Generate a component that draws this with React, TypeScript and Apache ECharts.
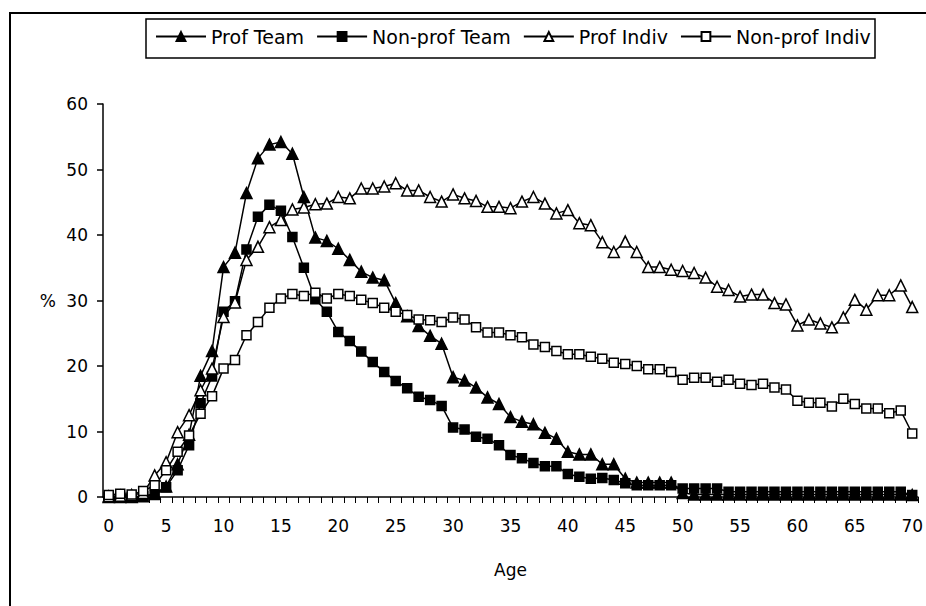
import React, { useEffect, useRef } from "react";
import * as echarts from "echarts";

const ages: string[] = [
  "0","1","2","3","4","5","6","7","8","9","10","11","12","13","14","15","16","17","18","19","20",
  "21","22","23","24","25","26","27","28","29","30","31","32","33","34","35","36","37","38","39","40",
  "41","42","43","44","45","46","47","48","49","50","51","52","53","54","55","56","57","58","59","60",
  "61","62","63","64","65","66","67","68","69","70",
];

const profTeam: number[] = [
  0, 0, 0, 0.1, 0.5, 1.6, 5.0, 9.5, 18.5, 22.3,
  35.1, 37.3, 46.4, 51.7, 53.8, 54.2, 52.4, 45.8, 39.6, 39.1,
  37.9, 36.2, 34.4, 33.5, 33.1, 29.6, 27.6, 26.1, 24.6, 23.4,
  18.3, 17.8, 16.7, 15.2, 14.2, 12.2, 11.5, 11.1, 9.8, 8.9,
  6.9, 6.5, 6.5, 5.0, 5.0, 2.8, 2.2, 2.2, 2.2, 2.2,
  0.6, 0.4, 0.4, 0.4, 0.4, 0.4, 0.4, 0.4, 0.4, 0.4,
  0.4, 0.4, 0.4, 0.4, 0.4, 0.4, 0.4, 0.4, 0.4, 0.4, 0.3,
];

const nonProfTeam: number[] = [
  0, 0, 0, 0.1, 0.3, 1.5, 4.1, 7.9, 14.3, 18.4,
  28.3, 29.9, 37.8, 42.8, 44.6, 43.7, 39.7, 35.0, 30.2, 28.3,
  25.2, 23.8, 22.2, 20.6, 19.1, 17.7, 16.6, 15.3, 14.8, 13.9,
  10.6, 10.3, 9.2, 8.9, 7.9, 6.4, 5.9, 5.2, 4.7, 4.7,
  3.5, 3.1, 2.8, 2.9, 2.6, 2.1, 1.8, 1.8, 1.8, 1.8,
  1.3, 1.3, 1.3, 1.3, 0.8, 0.8, 0.8, 0.8, 0.8, 0.8,
  0.8, 0.8, 0.8, 0.8, 0.8, 0.8, 0.8, 0.8, 0.8, 0.8, 0.3,
];

const profIndiv: number[] = [
  0.1, 0.2, 0.3, 0.6, 3.3, 5.3, 9.9, 12.5, 16.3, 19.6,
  27.5, 29.7, 36.2, 38.2, 41.2, 42.3, 43.9, 44.2, 44.7, 44.8,
  45.8, 45.6, 47.1, 47.1, 47.4, 47.9, 46.8, 46.8, 45.8, 45.1,
  46.2, 45.6, 45.2, 44.3, 44.3, 44.1, 45.1, 45.8, 44.8, 43.3,
  43.8, 41.8, 41.5, 38.9, 37.4, 39.0, 37.4, 35.1, 35.1, 34.7,
  34.5, 34.2, 33.5, 32.1, 31.6, 30.6, 30.9, 30.9, 29.6, 29.4,
  26.2, 27.1, 26.5, 25.9, 27.4, 30.1, 28.6, 30.8, 30.8, 32.3, 29.0,
];

const nonProfIndiv: number[] = [
  0.3, 0.5, 0.4, 0.9, 1.8, 4.1, 6.9, 9.4, 12.7, 15.4,
  19.6, 20.9, 24.7, 26.7, 28.9, 30.3, 31.0, 30.7, 31.2, 30.3,
  31.0, 30.7, 30.1, 29.6, 28.9, 28.3, 27.8, 27.1, 27.0, 26.7,
  27.4, 27.1, 25.9, 25.1, 25.1, 24.7, 24.4, 23.3, 22.9, 22.3,
  21.8, 21.8, 21.4, 21.1, 20.5, 20.3, 20.0, 19.5, 19.5, 19.1,
  17.9, 18.2, 18.2, 17.6, 17.9, 17.3, 17.1, 17.3, 16.7, 16.4,
  14.7, 14.4, 14.4, 13.8, 15.0, 14.2, 13.5, 13.5, 12.8, 13.2, 9.7,
];

const seriesNames: string[] = ["Prof Team", "Non-prof Team", "Prof Indiv", "Non-prof Indiv"];
const yTicks = { min: 0, max: 60, interval: 10 };

const FONT = "'DejaVu Sans', 'Liberation Sans', Arial, sans-serif";

function mk(name: string, data: number[], symbol: string, filled: boolean) {
  return {
    name,
    type: "line",
    data,
    symbol,
    symbolSize: symbol === "triangle" ? 11 : 9,
    showAllSymbol: true,
    lineStyle: { color: "#000", width: 1.5 },
    itemStyle: { color: filled ? "#000" : "#fff", borderColor: "#000", borderWidth: 1.5 },
    emphasis: { disabled: true },
  };
}

export default function App() {
  const ref = useRef<HTMLDivElement>(null);
  useEffect(() => {
    if (!ref.current) return;
    const chart = echarts.init(ref.current, undefined, { renderer: "svg" });
    const textStyle = { fontFamily: FONT, fontSize: 17, color: "#000" };
    chart.setOption({
      animation: false,
      backgroundColor: "#fff",
      grid: { left: 103, right: 3, top: 104, bottom: 109, containLabel: false },
      legend: {
        data: seriesNames,
        left: 155,
        top: 27,
        itemWidth: 50,
        itemHeight: 11,
        itemGap: 12,
        padding: 0,
        textStyle: { fontFamily: FONT, fontSize: 19, color: "#000" },
      },
      graphic: [
        {
          type: "rect",
          shape: { x: 10, y: 13, width: 1000, height: 1000 },
          style: { fill: "none", stroke: "#000", lineWidth: 2 },
          silent: true,
        },
        {
          type: "rect",
          shape: { x: 146, y: 19, width: 729, height: 39 },
          style: { fill: "none", stroke: "#000", lineWidth: 1.5 },
          silent: true,
        },
      ],
      xAxis: {
        type: "category",
        data: ages,
        boundaryGap: true,
        name: "Age",
        nameLocation: "middle",
        nameGap: 64,
        nameTextStyle: textStyle,
        axisLine: { show: true, lineStyle: { color: "#000", width: 1.5 } },
        axisTick: { show: true, interval: 0, length: 6, lineStyle: { color: "#000", width: 1 } },
        axisLabel: { ...textStyle, interval: 4, margin: 20 },
        splitLine: { show: false },
      },
      yAxis: {
        type: "value",
        min: yTicks.min,
        max: yTicks.max,
        interval: yTicks.interval,
        name: "%",
        nameLocation: "middle",
        nameRotate: 0,
        nameGap: 47,
        nameTextStyle: textStyle,
        axisLine: { show: true, lineStyle: { color: "#000", width: 1.5 } },
        axisTick: { show: true, length: 6, lineStyle: { color: "#000", width: 1.5 } },
        axisLabel: { ...textStyle, margin: 15 },
        splitLine: { show: false },
      },
      series: [
        mk(seriesNames[0], profTeam, "triangle", true),
        mk(seriesNames[1], nonProfTeam, "rect", true),
        mk(seriesNames[2], profIndiv, "triangle", false),
        mk(seriesNames[3], nonProfIndiv, "rect", false),
      ],
    });
    return () => chart.dispose();
  }, []);
  return (
    <div
      ref={ref}
      style={{ position: "absolute", left: 0, top: 0, width: 926, height: 606 }}
    />
  );
}
